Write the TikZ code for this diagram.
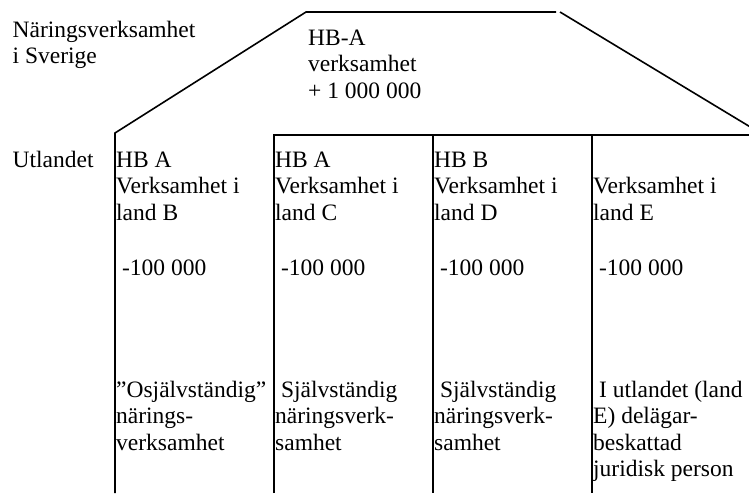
\documentclass[tikz,border=0pt]{standalone}
\usepackage{fontspec}
\setmainfont{Liberation Serif}
\newcommand{\pageWidth}{749}
\newcommand{\pageHeight}{493}
\newcommand{\roofBase}{135}
\newcommand{\textSize}{\fontsize{23.5}{26.5}\selectfont}

\begin{document}
\begin{tikzpicture}[x=1pt, y=-1pt,
    every node/.style={inner sep=0pt, anchor=base west, align=left, font=\textSize},
    roofline/.style={line width=1.6pt},
    wall/.style={line width=2pt}]
\useasboundingbox (0,0) rectangle (\pageWidth,\pageHeight);
% roof over HB-A
\draw[roofline] (115,\pageHeight) -- (115,133) -- (306,12) -- (556,12);
\draw[roofline] (560,12) -- (752,128);
% foreign units
\draw[wall] (274,\pageHeight) |- (\pageWidth,\roofBase);
\foreach \x in {433,592}
  \draw[wall] (\x,\roofBase) -- (\x,\pageHeight);

% nodes sit on the baseline of their last line
\node (sverige) at (12.5,63.5) {Näringsverksamhet\\i Sverige};
\node (hbaRoof) at (308,98) {HB-A\\verksamhet\\+ 1 000 000};
\node (utlandet) at (12.5,167) {Utlandet};

\node (landB) at (116,220) {HB A\\Verksamhet i\\land B};
\node (landC) at (275,220) {HB A\\Verksamhet i\\land C};
\node (landD) at (434,220) {HB B\\Verksamhet i\\land D};
\node (landE) at (593,220) {Verksamhet i\\land E};

\node (lossB) at (116,275) {~-100 000};
\node (lossC) at (275,275) {~-100 000};
\node (lossD) at (434,275) {~-100 000};
\node (lossE) at (593,275) {~-100 000};

\node (typeB) at (116,450) {”Osjälvständig”\\närings-\\verksamhet};
\node (typeC) at (275,450) {~Självständig\\näringsverk-\\samhet};
\node (typeD) at (434,450) {~Självständig\\näringsverk-\\samhet};
\node (typeE) at (593,476.5) {~I utlandet (land\\E) delägar-\\beskattad\\juridisk person};
\end{tikzpicture}
\end{document}
